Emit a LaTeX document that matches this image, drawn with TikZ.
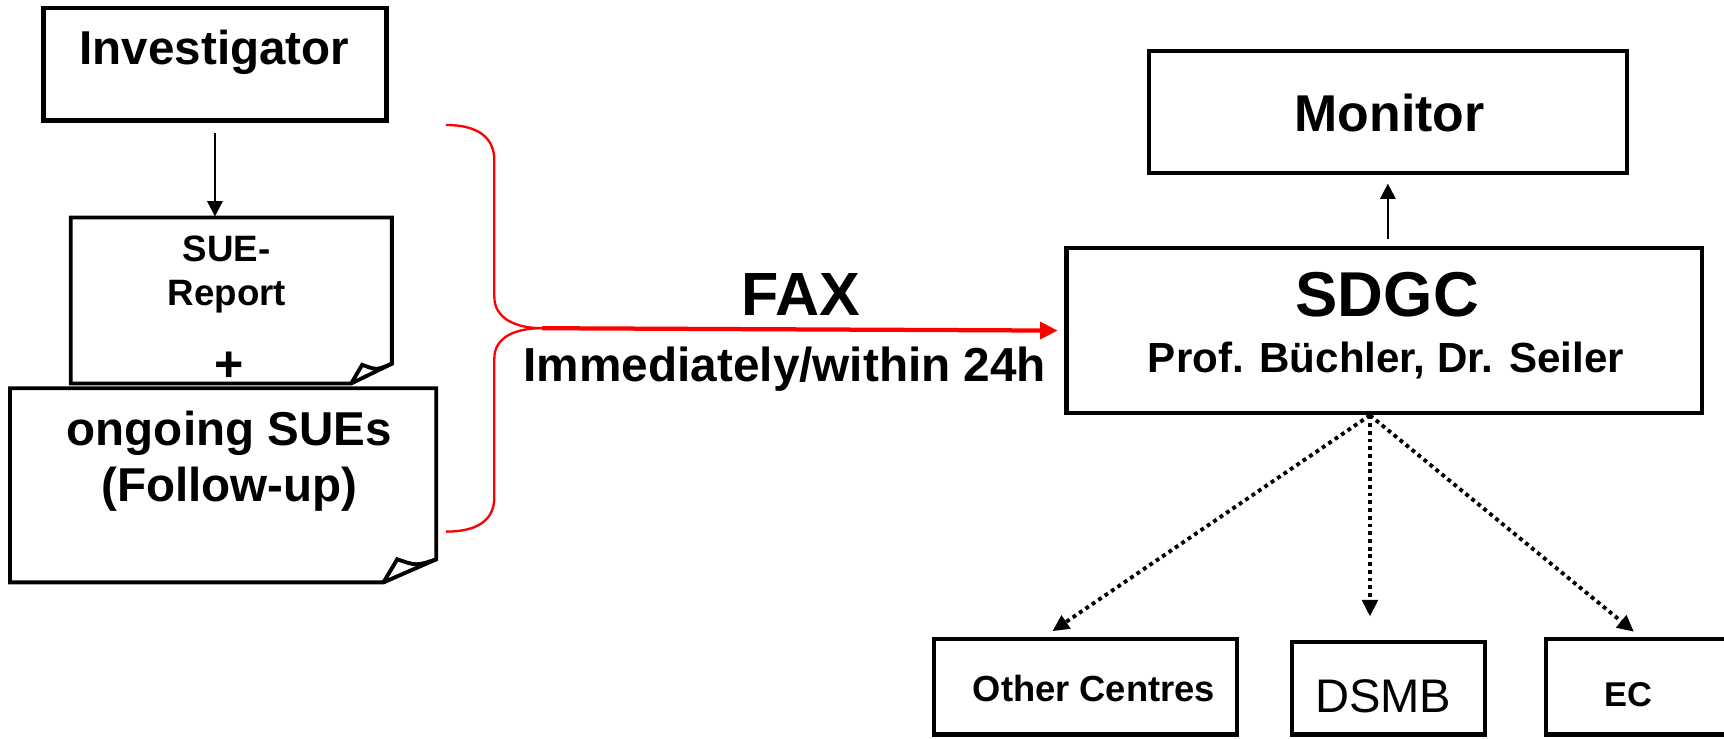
\documentclass[tikz,border=0pt]{standalone}
\usepackage{fontspec}
\setmainfont{Liberation Sans}
\usetikzlibrary{arrows.meta,calc}

\begin{document}
\begin{tikzpicture}[x=0.1mm,y=-0.1mm,
  box/.style={draw,line width=1.1pt,inner sep=0pt},
  doc/.style={draw,line width=1pt,line join=miter},
  lbl/.style={anchor=base,inner sep=0pt},
  thinarrow/.style={-{Triangle[length=1.4mm,width=1.4mm]},line width=0.5pt},
  dotarrow/.style={-{Triangle[length=1.5mm,width=1.4mm]},line width=1pt,dash pattern=on 1pt off 1pt},
  faxarrow/.style={-{Triangle[length=1.6mm,width=1.5mm]},red,line width=1.1pt}]
\useasboundingbox (0,0) rectangle (1568,672);

% investigator and the two reports
\node[box,minimum width=31.2mm,minimum height=10.2mm] at (195.5,58.6) (inv) {};
\node[lbl,font=\fontsize{12.3}{15}\selectfont\bfseries] at (195,59) (invtxt) {Investigator};

\node[inner sep=0pt,minimum width=29.07mm,minimum height=14.95mm] at (210.4,273.3) (sue) {};
\draw[doc] (sue.north west) -- (sue.north east) -- ($(sue.south east)+(0,-18)$) -- ($(sue.south east)+(-37,0)$) -- (sue.south west) -- cycle;
\draw[doc] ($(sue.south east)+(-37,0)$) -- ($(sue.south east)+(-27,-17)$) .. controls ($(sue.south east)+(-14,-12)$) .. ($(sue.south east)+(0,-18)$);
\node[lbl,font=\fontsize{9.5}{12}\selectfont\bfseries] at (206,238) (suetxt) {SUE-};
\node[lbl,font=\fontsize{9.5}{12}\selectfont\bfseries] at (206.3,277.4) (reptxt) {Report};

\node[inner sep=0pt,minimum width=38.63mm,minimum height=17.52mm] at (202.9,441.4) (ongo) {};
\draw[doc] (ongo.north west) -- (ongo.north east) -- ($(ongo.south east)+(0,-21)$) -- ($(ongo.south east)+(-48,0)$) -- (ongo.south west) -- cycle;
\draw[doc] ($(ongo.south east)+(-48,0)$) -- ($(ongo.south east)+(-35.5,-21)$) .. controls ($(ongo.south east)+(-18,-15)$) .. ($(ongo.south east)+(0,-21)$);
\node[lbl,font=\fontsize{12.3}{15}\selectfont\bfseries] at (208.5,404.8) (ongotxt) {ongoing SUEs};
\node[lbl,font=\fontsize{12.3}{15}\selectfont\bfseries] at (208.5,456) (folltxt) {(Follow-up)};

\node[inner sep=0pt,font=\fontsize{13}{14}\selectfont\bfseries] at (208.5,334) (plus) {+};

\draw[thinarrow,shorten <=0.9mm,shorten >=0.1mm] (inv.south) -- (inv.south |- sue.north);

% brace and fax
\coordinate (tip) at (493,298.5);
\draw[red,line width=0.6pt] (405.6,113.7) .. controls (436,113.7) and (449.6,126) .. (449.6,146) -- (449.6,270)
  .. controls (449.6,289) and (468,298.5) .. (tip)
  .. controls (468,298.5) and (449.6,307) .. (449.6,326) -- (449.6,452)
  .. controls (449.6,472) and (436,483.5) .. (405.6,483.5);

% SDGC and monitor
\node[box,minimum width=43.45mm,minimum height=11.15mm] at (1262.3,101.8) (mon) {};
\node[lbl,font=\fontsize{13.4}{16}\selectfont\bfseries] at (1264,119.7) (montxt) {Monitor};
\node[box,minimum width=57.8mm,minimum height=15.02mm] at (1259,300.7) (sdgc) {};
\node[lbl,font=\fontsize{16.4}{19}\selectfont\bfseries] at (1261.7,288) (sdgctxt) {SDGC};
\node[lbl,font=\fontsize{10.9}{13}\selectfont\bfseries] at (1260.5,339) (names) {Prof. Büchler, Dr. Seiler};
\draw[thinarrow,shorten <=0.6mm,shorten >=0.75mm] (sdgc.north -| mon.south) -- (mon.south);

\draw[faxarrow,shorten >=0.6mm] (tip) -- (sdgc.west);
\node[lbl,font=\fontsize{15.8}{19}\selectfont\bfseries] at (728.7,286.5) (fax) {FAX};
\node[lbl,font=\fontsize{12.35}{15}\selectfont\bfseries] at (713.9,347) (when) {Immediately/within 24h};

% who gets informed
\node[box,minimum width=27.52mm,minimum height=8.7mm] at (987.2,624.5) (oc) {};
\node[lbl,font=\fontsize{9.4}{12}\selectfont\bfseries] at (994.9,638) (octxt) {Other Centres};
\node[box,minimum width=17.58mm,minimum height=8.44mm] at (1262.7,625.8) (dsmb) {};
\node[lbl,font=\fontsize{12.2}{15}\selectfont] at (1258,648) (dsmbtxt) {DSMB};
\node[box,minimum width=21.4mm,minimum height=8.65mm] at (1513,624.75) (ec) {};
\node[lbl,font=\fontsize{8.9}{11}\selectfont\bfseries] at (1480.8,642.7) (ectxt) {EC};

\coordinate (fan) at ($(sdgc.south)+(-13,0)$);
\draw[dotarrow] (fan) -- ($(oc.north)+(-30,-5)$);
\draw[dotarrow,shorten >=2.1mm] (fan) -- (fan |- dsmb.north);
\draw[dotarrow] (fan) -- ($(ec.north west)+(82,-5)$);
\end{tikzpicture}
\end{document}
